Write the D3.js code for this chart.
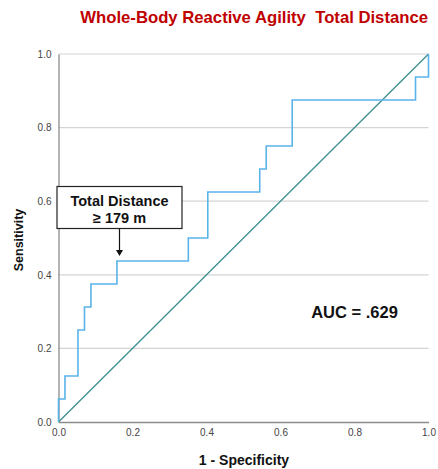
<!DOCTYPE html>
<html><head><meta charset="utf-8">
<script src="https://cdn.jsdelivr.net/npm/d3@7"></script>
<style>body{margin:0;background:#fff;} svg{display:block;font-family:"Liberation Sans",Arial,sans-serif;}</style>
</head><body><svg id="c" width="438" height="469"></svg>
<script>
const title = "Whole-Body Reactive Agility  Total Distance";
const xLabel = "1 - Specificity";
const yLabel = "Sensitivity";
const tickValues = [0, 0.2, 0.4, 0.6, 0.8, 1.0];
// ROC step points (1 - specificity, sensitivity)
const fpr = [0, 0, 0.0175, 0.0175, 0.0526, 0.0526, 0.0702, 0.0702, 0.0877, 0.0877, 0.1579, 0.1579, 0.3509, 0.3509, 0.4035, 0.4035, 0.5439, 0.5439, 0.5614, 0.5614, 0.6316, 0.6316, 0.9649, 0.9649, 1.0, 1.0];
const tpr = [0, 0.0625, 0.0625, 0.125, 0.125, 0.25, 0.25, 0.3125, 0.3125, 0.375, 0.375, 0.4375, 0.4375, 0.5, 0.5, 0.625, 0.625, 0.6875, 0.6875, 0.75, 0.75, 0.875, 0.875, 0.9375, 0.9375, 1.0];
const refX = [0, 1];
const refY = [0, 1];
const annotLines = ["Total Distance", "\u2265 179 m"];
const annotPoint = [0.1579, 0.4375];
const aucText = "AUC = .629";

const svg = d3.select("#c");
const x = d3.scaleLinear().domain([0,1]).range([58.5, 428.5]);
const y = d3.scaleLinear().domain([0,1]).range([422, 54]);

// gridlines
svg.append("g").selectAll("line").data(tickValues.filter(d=>d>0)).join("line")
  .attr("x1", x(0)).attr("x2", x(1)).attr("y1", d=>y(d)).attr("y2", d=>y(d))
  .attr("stroke", "#d4d4d4").attr("stroke-width", 1.2);

// axes
const ya = svg.append("g").attr("transform", `translate(${x(0)},0)`)
  .call(d3.axisLeft(y).tickValues(tickValues).tickFormat(d3.format(".1f")).tickSize(0).tickPadding(7));
const xa = svg.append("g").attr("transform", `translate(0,${y(0)})`)
  .call(d3.axisBottom(x).tickValues(tickValues).tickFormat(d3.format(".1f")).tickSize(0).tickPadding(7));
[ya, xa].forEach(a => {
  a.select(".domain").attr("stroke", "#8c8c8c").attr("stroke-width", 1.3);
  a.selectAll("text").attr("font-size", 10).attr("fill", "#444").attr("font-family", "Liberation Sans, Arial, sans-serif");
});

// reference diagonal
svg.append("path").datum(refX.map((d,i)=>[d, refY[i]]))
  .attr("d", d3.line().x(d=>x(d[0])).y(d=>y(d[1])))
  .attr("fill", "none").attr("stroke", "#3d8f8f").attr("stroke-width", 1.3);

// ROC
svg.append("path").datum(fpr.map((d,i)=>[d, tpr[i]]))
  .attr("d", d3.line().x(d=>x(d[0])).y(d=>y(d[1])))
  .attr("fill", "none").attr("stroke", "#5ab4ea").attr("stroke-width", 1.6);

// title
svg.append("text").attr("x", 428).attr("y", 23).attr("text-anchor", "end")
  .attr("font-size", 16.7).attr("font-weight", "bold").attr("fill", "#c00000")
  .attr("xml:space", "preserve").style("white-space", "pre").text(title);

// axis titles
svg.append("text").attr("x", 244).attr("y", 465).attr("text-anchor", "middle")
  .attr("font-size", 14).attr("font-weight", "bold").attr("fill", "#111").text(xLabel);
svg.append("text").attr("transform", "translate(23,240) rotate(-90)").attr("text-anchor", "middle")
  .attr("font-size", 12.5).attr("font-weight", "bold").attr("fill", "#111").text(yLabel);

// annotation
const ay = y(annotPoint[1]);
svg.append("rect").attr("x", 57).attr("y", 186.5).attr("width", 125).attr("height", 42)
  .attr("fill", "#fff").attr("stroke", "#222").attr("stroke-width", 1.2);
svg.append("g").selectAll("text").data(annotLines).join("text")
  .attr("x", 119.5).attr("y", (d,i)=>205.5 + i*17).attr("text-anchor", "middle")
  .attr("font-size", 14.5).attr("font-weight", "bold").attr("fill", "#111").text(d=>d);
svg.append("line").attr("x1", 119.5).attr("x2", 119.5).attr("y1", 228.5).attr("y2", ay - 10)
  .attr("stroke", "#111").attr("stroke-width", 1.2);
svg.append("path").attr("d", `M${119.5-3.5},${ay-11} L${119.5+3.5},${ay-11} L119.5,${ay-5} Z`).attr("fill", "#111");

// AUC
svg.append("text").attr("x", 354.5).attr("y", 318).attr("text-anchor", "middle")
  .attr("font-size", 16.5).attr("font-weight", "bold").attr("fill", "#111").text(aucText);
</script></body></html>
